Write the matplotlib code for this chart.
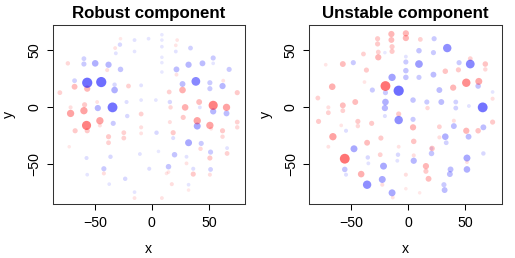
import numpy as np
import matplotlib
matplotlib.use("Agg")
import matplotlib.pyplot as plt

plt.rcParams['font.family'] = ['Liberation Sans', 'DejaVu Sans']

# --- data: spot positions and signed loadings (red > 0, blue < 0) ---
rob_x = [-56.7, -44.4, -34.5, -49.7, -38.0, -59.6, -59.6, -67.8, -32.7, -32.7, -47.4, -33.9,
         -27.5, -28.0, -31.6, -15.2, -15.2, -42.1, -36.3, -57.3, -56.7, -21.6, -22.2, -23.4,
         -37.4, -9.4, -9.4, -2.9, 3.5, 4.1, -2.3, -10.5, -15.2, 38.6, 32.2, 39.8, 53.8, 65.5,
         32.2, 44.4, 53.8, 21.6, 26.9, 50.9, 50.9, 62.0, 67.8, 42.1, 43.3, 19.9, 14.6, 51.5,
         51.5, 36.3, 33.9, 21.0, 15.8, 18.7, 30.4, 66.0, 53.8, 8.8, 8.8, 8.8, 8.8, 8.8, 8.8,
         32.2, 5.8,
         -71.3, -59.6, -57.3, -45.6, -67.8, -56.7, -59.0, -71.3, -80.7, -67.3, -56.7, -45.6,
         -38.0, -38.0, -73.7, -48.0, -39.2, -32.2, -20.5, -24.6, -24.6, -9.4, -9.4, -9.4,
         -27.5, -42.1, -15.2, 8.8, -72.5, 53.8, 65.5, 39.8, 50.9, 29.2, 26.9, 41.5, 27.5,
         16.4, 15.2, 18.7, 15.8, 74.9, 74.9, 74.9, 62.0, 62.0, 66.0, 50.9, 50.9, 36.3, 42.7,
         30.4, 17.5, 12.9, 62.6, 52.0, 21.6, 22.2, 21.0, 32.2, 14.6]
rob_y = [21.6, 22.2, 0.0, 38.6, 37.4, 42.7, 38.0, 23.4, 15.2, 19.9, -0.6, -14.0,
         33.3, 55.0, 47.4, 59.0, 49.0, -53.8, -43.3, -44.4, -59.0, -7.6, 4.7, -62.6,
         -67.3, 19.3, 6.4, 60.2, 6.4, -22.2, -53.8, -40.9, -74.3, 22.8, -31.0, -16.4, -3.5, -5.3,
         37.4, 38.6, 43.3, 33.3, 20.5, 21.6, 16.4, 18.7, 33.3, 0.0, -31.6, -41.5, -52.0, -39.2,
         -54.4, -53.8, 52.0, 49.0, 4.7, -26.9, -43.3, -35.7, 38.6, 63.7, 59.0, 53.2, 43.9, 39.2, 31.0,
         -67.8, -38.6,
         -5.3, -2.9, -15.8, -11.7, 18.1, 16.4, 2.3, 0.0, 12.9, -20.5, -20.5, -15.8,
         -25.7, -31.0, 38.6, 4.7, 32.7, 52.0, 18.7, -22.2, -26.9, -5.8, -17.5, -22.8,
         60.2, -57.9, -79.5, -79.5, -34.5, 1.8, 0.0, -11.7, -15.8, 0.0, 15.2, 4.7, -8.8,
         0.0, 13.5, -22.2, -12.9, 12.9, -12.9, -17.5, -20.5, -25.7, -40.4, -44.4, -59.0, -58.5, -36.3,
         -49.1, -67.3, -57.9, 23.4, -18.7, 28.7, 59.0, 54.4, -72.5, -56.7]
rob_v = [-1.0, -1.0, -0.95, -0.5, -0.45, -0.25, -0.3, -0.25, -0.5, -0.2, -0.45, -0.3,
         -0.35, -0.2, -0.12, -0.12, -0.1, -0.3, -0.2, -0.15, -0.1, -0.2, -0.15, -0.2,
         -0.1, -0.12, -0.1, -0.1, -0.1, -0.2, -0.15, -0.12, -0.1, -0.8, -0.55, -0.55, -0.45, -0.4,
         -0.45, -0.4, -0.3, -0.4, -0.4, -0.3, -0.3, -0.45, -0.3, -0.12, -0.3, -0.35, -0.35, -0.3,
         -0.25, -0.15, -0.25, -0.12, -0.2, -0.15, -0.12, -0.12, -0.1, -0.08, -0.08, -0.1, -0.08, -0.08, -0.08,
         -0.1, -0.08,
         0.6, 0.6, 0.85, 0.6, 0.4, 0.45, 0.3, 0.15, 0.25, 0.3, 0.3, 0.15,
         0.3, 0.25, 0.2, 0.12, 0.15, 0.12, 0.25, 0.25, 0.25, 0.25, 0.15, 0.12,
         0.08, 0.15, 0.12, 0.12, 0.08, 0.85, 0.6, 0.6, 0.6, 0.5, 0.5, 0.4, 0.3,
         0.2, 0.25, 0.3, 0.15, 0.3, 0.25, 0.2, 0.3, 0.2, 0.25, 0.3, 0.15, 0.3, 0.2,
         0.12, 0.15, 0.1, 0.12, 0.12, 0.12, 0.1, 0.1, 0.08, 0.1]

uns_x = [-8.6, 65.1, 54.2, 34.0, -36.3, -8.6, 9.2, -14.4, -21.9, -23.0, -14.4, -47.8,
         32.3, 51.3, 51.3, 36.9, 36.3, 39.8, 33.1, 31.7, 31.1, 4.6, 4.0, 4.0, 16.1, 28.8,
         27.1, 21.9, 21.9, 22.5, 9.2, 9.2, -2.3, -2.3, -2.3, -20.2, -20.7, -20.2, -20.7,
         -31.7, -48.4, -55.9, -54.8, -35.7, -35.2, -9.2, -9.8, 20.2, 20.2, 52.7, 65.7, 65.7,
         61.1, 44.4, 41.5, 41.5, 53.0, 73.8, -54.8, -2.3, -20.7,
         -20.2, -55.9, 50.7, 61.7, -66.3, -66.9, -41.5, 15.3, 17.6, 15.3, 20.7, 50.7, 61.1,
         39.2, 32.3, 43.8, 67.4, 67.4, 54.2, 73.8, 73.8, 16.7, 4.0, 4.6, 4.6, -2.3, -2.3,
         -15.0, -15.0, -14.4, -14.4, -27.1, -27.1, -26.5, -26.5, -36.9, -57.6, -46.7, -44.4,
         -44.4, -57.6, -57.6, -70.3, -70.3, -79.5, -78.9, -70.3, -72.6, -32.3, -36.3, -24.2,
         -24.8, -23.0, -13.8, -8.6, -8.6, -2.3, -2.3, 9.8, 10.4, 27.1, 27.1, 39.8, 51.3,
         -38.6, -39.5, -59.0]
uns_y = [14.6, 0.0, 38.0, 52.0, -67.8, -11.1, 38.0, 26.3, -51.5, -63.2, -74.9, -36.3,
         -25.7, -44.4, -54.4, -54.4, -58.5, -16.4, -31.0, -72.5, -67.8, -46.8, -10.5, 6.4, 4.7, 4.7,
         15.2, 28.7, 48.0, 60.2, 49.7, 26.3, 39.8, 32.2, 26.3, 4.7, -0.6, 12.9, -7.6,
         15.2, 39.2, -54.4, -20.5, -43.9, -49.1, -41.5, -46.8, -40.4, -36.0, -25.7, -17.5, -40.4,
         18.7, 39.2, 4.7, -0.6, 1.2, 13.5, -59.0, 44.5, 48.0,
         18.7, -45.0, 21.6, 22.8, -25.7, 18.1, -58.5, -51.5, -62.6, -56.0, -36.0, -20.5, -20.5,
         17.3, 31.7, 32.9, 38.0, 33.3, 42.7, -12.9, 7.6, -0.6, -17.5, -29.8, -42.1, 64.9, 60.8,
         64.3, 59.1, 53.2, 49.1, 60.2, 55.6, 48.5, 43.9, 32.7, 38.0, 4.7, -12.3,
         -16.4, 1.8, -2.9, 0.0, -4.7, 8.2, -12.3, -34.5, 37.4, -14.0, -31.0, -26.9,
         -41.5, -67.8, -79.0, -5.8, -34.5, -59.0, -71.3, -74.9, 59.6, -17.0, -26.3, -11.7, -48.0,
         22.2, 46.8, -15.8]
uns_v = [-1.0, -0.95, -0.8, -0.75, -0.75, -0.75, -0.65, -0.6, -0.55, -0.55, -0.55, -0.55,
         -0.5, -0.55, -0.5, -0.4, -0.4, -0.4, -0.25, -0.4, -0.3, -0.45, -0.3, -0.35, -0.3, -0.4,
         -0.4, -0.4, -0.3, -0.3, -0.35, -0.3, -0.3, -0.35, -0.35, -0.5, -0.45, -0.3, -0.15,
         -0.3, -0.3, -0.35, -0.15, -0.2, -0.12, -0.2, -0.12, -0.35, -0.12, -0.4, -0.4, -0.2,
         -0.35, -0.3, -0.25, -0.25, -0.12, -0.1, -0.15, -0.12, -0.08,
         0.95, 0.95, 0.75, 0.55, 0.6, 0.5, 0.5, 0.45, 0.4, 0.3, 0.35, 0.45, 0.35,
         0.45, 0.35, 0.3, 0.35, 0.2, 0.25, 0.3, 0.15, 0.2, 0.45, 0.35, 0.15, 0.45, 0.45,
         0.45, 0.4, 0.3, 0.3, 0.3, 0.3, 0.25, 0.45, 0.3, 0.4, 0.4, 0.3,
         0.2, 0.4, 0.25, 0.15, 0.25, 0.25, 0.3, 0.12, 0.1, 0.3, 0.4, 0.3,
         0.25, 0.15, 0.12, 0.3, 0.12, 0.15, 0.08, 0.08, 0.25, 0.25, 0.15, 0.15, 0.12,
         0.1, 0.25, 0.1]

panels = [("Robust component", rob_x, rob_y, rob_v, 0.1023),
          ("Unstable component", uns_x, uns_y, uns_v, 0.6006)]


def spot_colors(v):
    v = np.asarray(v)
    m = np.abs(v)
    rgba = np.zeros((len(v), 4))
    rgba[v > 0, 0] = 1.0
    rgba[v < 0, 2] = 1.0
    rgba[:, 3] = 0.05 + 0.52 * m
    size = (3.0 + 7.2 * m) / 1.389  # diameter px -> pt
    return rgba, size ** 2, np.argsort(m)


fig = plt.figure(figsize=(5.15, 2.58), dpi=100)

for title, xs, ys, vs, left in panels:
    ax = fig.add_axes([left, 0.208, 0.3734, 0.695])
    cols, sizes, order = spot_colors(vs)
    ax.scatter(np.asarray(xs)[order], np.asarray(ys)[order], s=sizes[order],
               c=cols[order], edgecolors='none')
    ax.set_xlim(-87, 81.7)
    ax.set_ylim(-85, 72.2)
    ax.set_xticks([-50, 0, 50])
    ax.set_yticks([-50, 0, 50])
    ax.tick_params(direction='out', length=4.3, width=0.75, labelsize=10.2, pad=4)
    for lab in ax.get_yticklabels():
        lab.set_rotation(90)
        lab.set_va('center')
    for sp in ax.spines.values():
        sp.set_linewidth(0.75)
        sp.set_color('#333333')
    ax.set_title(title, fontsize=12.2, fontweight='bold', pad=5)
    ax.set_xlabel('x', fontsize=10.2, labelpad=9)
    ax.set_ylabel('y', fontsize=10.2, labelpad=8)

fig.savefig('out.png', dpi=100)
